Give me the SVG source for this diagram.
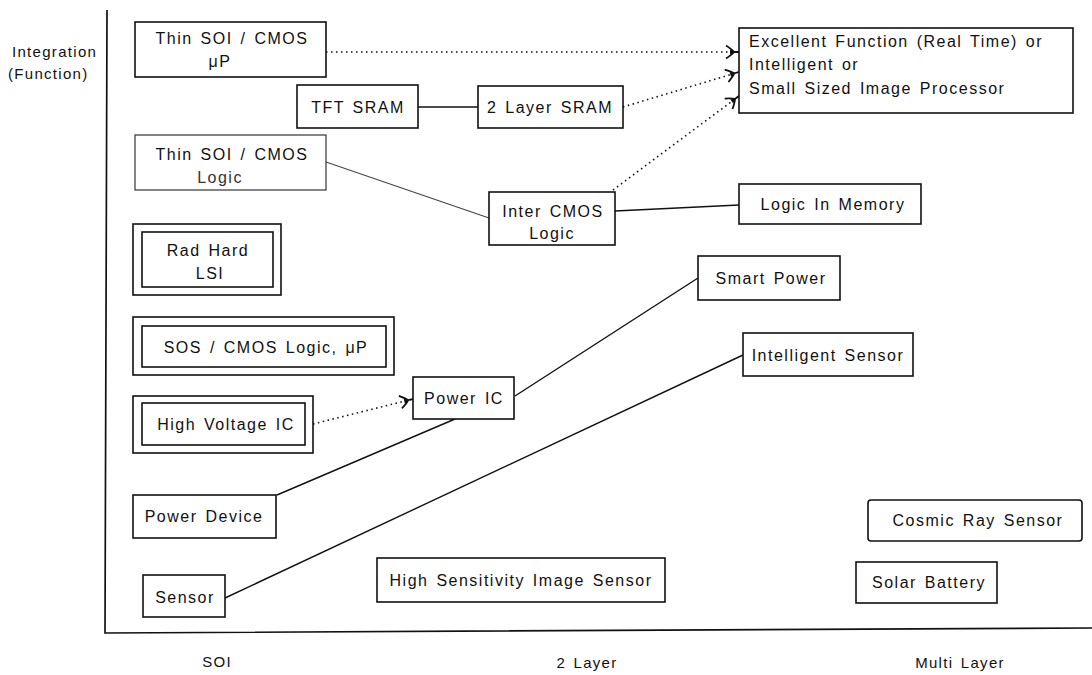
<svg xmlns="http://www.w3.org/2000/svg" width="1092" height="675" viewBox="0 0 1092 675">
  <defs>
    <style>
      text { font-family: "Liberation Sans", Arial, sans-serif; font-size: 16px; fill: #111; letter-spacing: 1.5px; word-spacing: 2px; }
      .ax { font-size: 15px; letter-spacing: 1.3px; }
      .mid { text-anchor: middle; }
      .box { fill: #fff; stroke: #111; stroke-width: 1.6; }
      .faint { stroke: #333; stroke-width: 1.2; }
      .faint-text { fill: #333; }
      .axis { fill: none; stroke: #111; stroke-width: 1.7; }
      .solid { fill: none; stroke: #111; stroke-width: 1.4; }
      .solid-faint { fill: none; stroke: #444; stroke-width: 1.1; }
      .dot { fill: none; stroke: #111; stroke-width: 1.6; stroke-dasharray: 1.5 3.5; }
    </style>
    <marker id="barb" markerUnits="userSpaceOnUse" markerWidth="18" markerHeight="16" refX="14" refY="8" orient="auto">
      <path d="M1,1.5 Q7,5.5 9,8 Q7,10.5 1,14.5 M8,8 L14,8" fill="none" stroke="#111" stroke-width="1.8"/>
      <path d="M5,5.5 L10.5,8 L5,10.5 Z" fill="#111"/>
    </marker>
  </defs>

  <!-- axes -->
  <g id="axes">
    <path class="axis" d="M107,10 L105,633 L1092,628"/>
    <text class="ax" x="12" y="57">Integration</text>
    <text class="ax" x="8" y="79">(Function)</text>
    <text class="ax mid" x="217" y="667">SOI</text>
    <text class="ax mid" x="587" y="668">2 Layer</text>
    <text class="ax mid" x="960" y="668">Multi Layer</text>
  </g>

  <!-- connectors -->
  <g id="connectors">
    <path class="dot" d="M326,52 L739,52" marker-end="url(#barb)"/>
    <path class="dot" d="M623,107 L739,72" marker-end="url(#barb)"/>
    <path class="dot" d="M613,190 L739,96" marker-end="url(#barb)"/>
    <path class="solid" d="M418,107 L478,107"/>
    <path class="solid-faint" d="M326,162 L489,218"/>
    <path class="solid" d="M615,211 L739,205"/>
    <path class="dot" d="M313,424 L413,399" marker-end="url(#barb)"/>
    <path class="solid" d="M515,396 L698,278"/>
    <path class="solid" d="M277,495 L455,419"/>
    <path class="solid" d="M225,598 L743,355"/>
  </g>

  <g id="thin-soi-up">
    <rect class="box" x="135" y="22" width="191" height="55"/>
    <text class="mid" x="232" y="44">Thin SOI / CMOS</text>
    <text class="mid" x="220" y="67">μP</text>
  </g>

  <g id="tft-sram">
    <rect class="box" x="297" y="85" width="121" height="43"/>
    <text class="mid" x="358" y="113">TFT SRAM</text>
  </g>

  <g id="two-layer-sram">
    <rect class="box" x="478" y="86" width="145" height="42"/>
    <text class="mid" x="550" y="113">2 Layer SRAM</text>
  </g>

  <g id="excellent-function">
    <rect class="box" x="739" y="28" width="334" height="85"/>
    <text x="749" y="47">Excellent Function (Real Time) or</text>
    <text x="749" y="70">Intelligent or</text>
    <text x="749" y="94">Small Sized Image Processor</text>
  </g>

  <g id="thin-soi-logic">
    <rect class="box faint" x="135" y="135" width="191" height="55"/>
    <text class="mid" x="232" y="160">Thin SOI / CMOS</text>
    <text class="mid faint-text" x="220" y="183">Logic</text>
  </g>

  <g id="inter-cmos-logic">
    <rect class="box" x="489" y="192" width="126" height="53"/>
    <text class="mid" x="553" y="217">Inter CMOS</text>
    <text class="mid" x="552" y="239">Logic</text>
  </g>

  <g id="logic-in-memory">
    <rect class="box" x="739" y="184" width="182" height="40"/>
    <text class="mid" x="833" y="210">Logic In Memory</text>
  </g>

  <g id="rad-hard-lsi">
    <rect class="box" x="133" y="224" width="148" height="71"/>
    <rect class="box" x="142" y="232" width="131" height="55"/>
    <text class="mid" x="208" y="256">Rad Hard</text>
    <text class="mid" x="210" y="279">LSI</text>
  </g>

  <g id="sos-cmos">
    <rect class="box" x="133" y="317" width="261" height="58"/>
    <rect class="box" x="142" y="326" width="244" height="41"/>
    <text class="mid" x="266" y="353">SOS / CMOS Logic, μP</text>
  </g>

  <g id="high-voltage-ic">
    <rect class="box" x="133" y="396" width="180" height="57"/>
    <rect class="box" x="142" y="403" width="163" height="42"/>
    <text class="mid" x="226" y="430">High Voltage IC</text>
  </g>

  <g id="power-ic">
    <rect class="box" x="413" y="377" width="101" height="42"/>
    <text class="mid" x="464" y="404">Power IC</text>
  </g>

  <g id="smart-power">
    <rect class="box" x="698" y="256" width="142" height="44"/>
    <text class="mid" x="771" y="284">Smart Power</text>
  </g>

  <g id="intelligent-sensor">
    <rect class="box" x="743" y="333" width="170" height="43"/>
    <text class="mid" x="828" y="361">Intelligent Sensor</text>
  </g>

  <g id="power-device">
    <rect class="box" x="133" y="495" width="143" height="43"/>
    <text class="mid" x="204" y="522">Power Device</text>
  </g>

  <g id="sensor">
    <rect class="box" x="143" y="575" width="82" height="42"/>
    <text class="mid" x="185" y="603">Sensor</text>
  </g>

  <g id="high-sensitivity-image-sensor">
    <rect class="box" x="377" y="558" width="288" height="44"/>
    <text class="mid" x="521" y="586">High Sensitivity Image Sensor</text>
  </g>

  <g id="cosmic-ray-sensor">
    <rect class="box" x="868" y="500" width="214" height="41" rx="3"/>
    <text class="mid" x="978" y="526">Cosmic Ray Sensor</text>
  </g>

  <g id="solar-battery">
    <rect class="box" x="856" y="562" width="141" height="41"/>
    <text class="mid" x="929" y="588">Solar Battery</text>
  </g>
</svg>
